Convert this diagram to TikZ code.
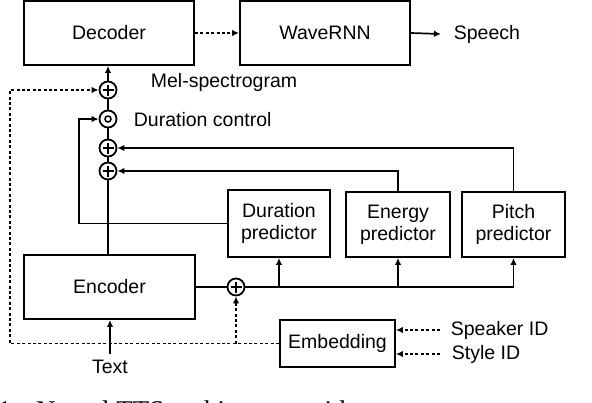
\documentclass[tikz,border=0pt]{standalone}
\usepackage{fontspec}
\setmainfont{Liberation Sans}
\newfontfamily\capfont{Liberation Serif}
\usetikzlibrary{arrows.meta}
\begin{document}
\begin{tikzpicture}[x=1pt,y=-1pt,line width=1.7pt,
  txtf/.style={font=\fontsize{19.5}{22}\selectfont},
  box/.style={draw,line width=1.9pt,inner sep=0pt,align=center,txtf},
  lab/.style={inner sep=0pt,txtf},
  sumc/.style={circle,draw,line width=1.8pt,minimum size=17pt,inner sep=0pt,
    path picture={\draw[line width=1.6pt]
      ([xshift=-5.5pt]path picture bounding box.center)--([xshift=5.5pt]path picture bounding box.center)
      ([yshift=-5.5pt]path picture bounding box.center)--([yshift=5.5pt]path picture bounding box.center);}},
  dotc/.style={circle,draw,line width=1.8pt,minimum size=17pt,inner sep=0pt,
    path picture={\draw[line width=1.5pt] (path picture bounding box.center) circle (3pt);}},
  arr/.style={-{Latex[length=7pt,width=6.5pt]}},
  dott/.style={dash pattern=on 3pt off 2.4pt}]
\useasboundingbox (0,0) rectangle (592,402);
% boxes
\node[box,minimum width=170pt,minimum height=64pt] (dec) at (109,33) {Decoder};
\node[box,minimum width=170pt,minimum height=64pt] (wav) at (325,33) {WaveRNN};
\node[box,minimum width=102pt,minimum height=67pt] (dur) at (279,223.5) {Duration\\predictor};
\node[box,minimum width=104pt,minimum height=65pt] (ene) at (398,224.5) {Energy\\predictor};
\node[box,minimum width=103pt,minimum height=65pt] (pit) at (513.5,224.5) {Pitch\\predictor};
\node[box,minimum width=171pt,minimum height=64pt] (enc) at (109.5,287) {Encoder};
\node[box,minimum width=115pt,minimum height=47pt] (emb) at (337.5,343.5) {Embedding};
% circles
\node[sumc] (s1) at (108,90) {};
\node[dotc] (dc) at (108,119) {};
\node[sumc] (s2) at (108,148) {};
\node[sumc] (s3) at (108,171) {};
\node[sumc] (s4) at (236,287) {};
% labels
\node[lab,inner xsep=12pt,anchor=west] (sp) at (441,34) {Speech};
\node[lab] (mel) at (224,82) {Mel-spectrogram};
\node[lab,anchor=west] (dcl) at (133,120) {Duration control};
\node[lab,inner xsep=10pt,anchor=west] (spk) at (440,330) {Speaker ID};
\node[lab,inner xsep=11pt,anchor=west] (sty) at (440,354) {Style ID};
\node[lab] (txt) at (110,367) {Text};
\node[anchor=base west,inner sep=0pt,font=\capfont\fontsize{27}{30}\selectfont] (cap) at (-3,419) {1.\hspace{18pt}Neural TTS architecture with};
% coordinates
\coordinate (dcorner) at (79,223.5);
\coordinate (lcorner) at (10,343.5);
\coordinate (tcorner) at (10,90);
% connectors
\draw[arr,dott] (dec.east) -- (wav.west);
\draw[arr] (wav.east) -- (sp.west);
\draw[arr] (s1.north) -- (s1.north |- dec.south);
\draw (s1) -- (dc) (dc) -- (s2) (s2) -- (s3);
\draw (s3.south) -- (s3.south |- enc.north);
\draw[arr] (dur.west) -- (dcorner) |- (dc.west);
\draw[arr] (pit.north) |- (s2.east);
\draw[arr] (ene.north) |- (s3.east);
\draw (enc.east) -- (s4.west);
\draw[arr] (s4.east) -| (pit.south);
\draw[arr] (s4 -| dur.south) -- (dur.south);
\draw[arr] (s4 -| ene.south) -- (ene.south);
\draw[arr] ([yshift=5pt]txt.north) -- (txt.north |- enc.south);
\draw[arr,dott] (emb.west) -- (lcorner) -- (tcorner) -- (s1.west);
\draw[arr,dott] (s4 |- emb.west) -- (s4.south);
\draw[arr,dott] (spk.west) -- (spk.west -| emb.east);
\draw[arr,dott] (sty.west) -- (sty.west -| emb.east);
\end{tikzpicture}
\end{document}
